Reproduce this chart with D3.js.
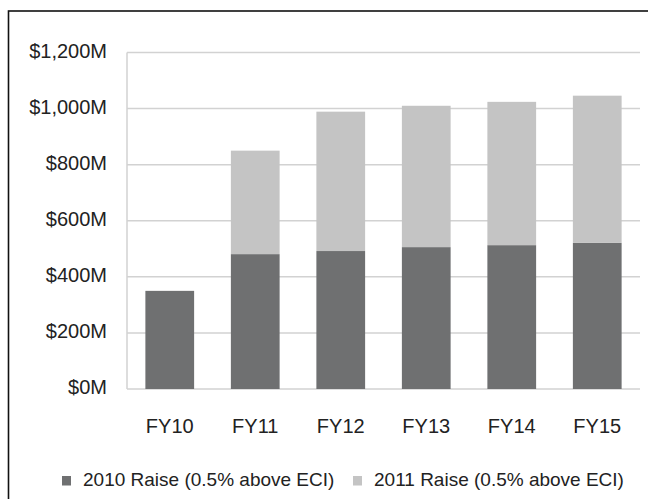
<!DOCTYPE html>
<html>
<head>
<meta charset="utf-8">
<script src="https://cdn.jsdelivr.net/npm/d3@7/dist/d3.min.js"></script>
<style>
  body { margin: 0; background: #fff; }
  svg text { font-family: "Liberation Sans", Arial, Helvetica, sans-serif; fill: #222; }
</style>
</head>
<body>
<svg id="chart" width="648" height="499"></svg>
<script>
// values in $M
var years = ["FY10", "FY11", "FY12", "FY13", "FY14", "FY15"];
var raise2010 = [350, 481, 492, 506, 513, 521];
var raise2011 = [0, 369, 497, 504, 511, 525];
var yTicks = [0, 200, 400, 600, 800, 1000, 1200];
var seriesNames = ["2010 Raise (0.5% above ECI)", "2011 Raise (0.5% above ECI)"];
var seriesColors = ["#6f7071", "#c4c4c4"];

var WIDTH = 648, HEIGHT = 499;
var MARGINS = { left: 127, right: 8, top: 52.5, bottom: 110 };

var svg = d3.select("#chart");

// frame (only top and left edges fall inside the picture)
svg.append("rect")
    .attr("x", 8.5).attr("y", 11)
    .attr("width", 700).attr("height", 600)
    .attr("fill", "none")
    .attr("stroke", "#111")
    .attr("stroke-width", 1.6);

var xRange = d3.scaleBand()
    .domain(years)
    .range([MARGINS.left, WIDTH - MARGINS.right])
    .paddingInner(0.43)
    .paddingOuter(0.215);

var yRange = d3.scaleLinear()
    .domain([0, 1200])
    .range([HEIGHT - MARGINS.bottom, MARGINS.top]);

// gridlines
svg.append("g")
    .attr("class", "grid")
    .selectAll("line")
    .data(yTicks)
    .enter().append("line")
    .attr("x1", MARGINS.left).attr("x2", WIDTH - MARGINS.right)
    .attr("y1", function (d) { return yRange(d); })
    .attr("y2", function (d) { return yRange(d); })
    .attr("stroke", "#d2d2d2")
    .attr("stroke-width", 1.5);

// left axis line
svg.append("line")
    .attr("x1", MARGINS.left).attr("x2", MARGINS.left)
    .attr("y1", yRange(1200)).attr("y2", yRange(0))
    .attr("stroke", "#d2d2d2")
    .attr("stroke-width", 1.5);

// y axis labels
var yAxis = d3.axisLeft(yRange)
    .tickValues(yTicks)
    .tickSize(0)
    .tickPadding(20)
    .tickFormat(function (d) { return "$" + d3.format(",")(d) + "M"; });

var y2 = svg.append("g")
    .attr("class", "yaxis")
    .attr("transform", "translate(" + MARGINS.left + ",0)")
    .call(yAxis);
y2.select(".domain").remove();
y2.selectAll("text")
    .attr("font-size", "20px")
    .attr("dy", "0.24em")
    .style("font-family", "'Liberation Sans', Arial, sans-serif")
    .attr("fill", "#222");

// x axis labels
var xAxis = d3.axisBottom(xRange).tickSize(0).tickPadding(30);
var x2 = svg.append("g")
    .attr("class", "xaxis")
    .attr("transform", "translate(0," + yRange(0) + ")")
    .call(xAxis);
x2.select(".domain").remove();
x2.selectAll("text")
    .attr("font-size", "20px")
    .style("font-family", "'Liberation Sans', Arial, sans-serif")
    .attr("fill", "#222");

// stacked bars
var rows = years.map(function (y, i) { return { year: y, a: raise2010[i], b: raise2011[i] }; });
var stack = d3.stack().keys(["a", "b"])(rows);

svg.append("g")
    .selectAll("g")
    .data(stack)
    .enter().append("g")
    .attr("fill", function (d, i) { return seriesColors[i]; })
    .selectAll("rect")
    .data(function (d) { return d; })
    .enter().append("rect")
    .attr("x", function (d) { return xRange(d.data.year); })
    .attr("width", xRange.bandwidth())
    .attr("y", function (d) { return yRange(d[1]); })
    .attr("height", function (d) { return yRange(d[0]) - yRange(d[1]); });

// legend
var legendX = [62, 353];
var legend = svg.append("g").attr("class", "legend");
seriesNames.forEach(function (name, i) {
    legend.append("rect")
        .attr("x", legendX[i]).attr("y", 476)
        .attr("width", 9).attr("height", 9.5)
        .attr("fill", seriesColors[i]);
    legend.append("text")
        .attr("x", legendX[i] + 21).attr("y", 486)
        .attr("font-size", "19px")
        .text(name);
});
</script>
</body>
</html>
